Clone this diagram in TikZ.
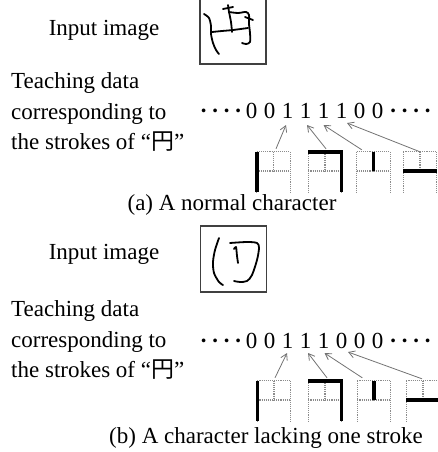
\documentclass[tikz,border=0pt]{standalone}
\usepackage{fontspec}
\setmainfont{Liberation Serif}
\newfontfamily\cjk{Noto Sans CJK JP}
\usetikzlibrary{arrows.meta,calc}
\newcommand\onedot{\makebox[11.5pt]{\bfseries ·}}
\newcommand\dotrow{\onedot\onedot\onedot\onedot}
% grid of the character: #1 = node name, #2 = highlighted stroke (1..4)
\newcommand\yengrid[2]{%
  \draw[gridl] (#1.north west) -- (#1.south west)
               (#1.north west) -- (#1.north east) -- (#1.south east)
               (#1.north) -- ($(#1.north)!0.475!(#1.south)$)
               ($(#1.north west)!0.475!(#1.south west)$) -- ($(#1.north east)!0.475!(#1.south east)$);
  \ifcase#2\or
    \draw[strk] (#1.north west) -- (#1.south west);\or
    \draw[strk] (#1.north west) -- (#1.north east) -- (#1.south east);\or
    \draw[strk] (#1.north) -- ($(#1.north)!0.475!(#1.south)$);\or
    \draw[strk] ($(#1.north west)!0.475!(#1.south west)$) -- ($(#1.north east)!0.475!(#1.south east)$);\fi}
\begin{document}
\begin{tikzpicture}[x=1pt,y=-1pt,
  txt/.style={font=\fontsize{23}{23}\selectfont, inner sep=0pt},
  lbl/.style={txt, anchor=base west},
  dig/.style={txt, anchor=base},
  imgbox/.style={draw=black!75, line width=1.1pt, minimum width=66pt, minimum height=66pt, inner sep=0pt},
  cell/.style={minimum width=33pt, minimum height=40pt, inner sep=0pt},
  gridl/.style={draw=black!45, line width=1.1pt, densely dotted},
  strk/.style={draw=black, line width=3.4pt},
  arr/.style={draw=black!55, line width=0.8pt, -{Straight Barb[length=6pt,width=7pt]}},
  pen/.style={draw=black, line width=1.8pt, line cap=round, line join=round}]
\useasboundingbox (0,0) rectangle (438,452);

% ---------- (a) ----------
\node[dig] (in1) at (104,36) {Input image};
\node[imgbox] (img1) at (233,31) {};
\draw[pen] plot[smooth] coordinates {(204,14) (209,18) (211,26) (211,34) (213,43) (216,50) (219,54)};
\draw[pen] plot[smooth] coordinates {(212,32) (222,31) (233,30) (248,28)};
\draw[pen] (223,9) -- (233,7);
\draw[pen] (228,5) -- (229,12);
\draw[pen] plot[smooth] coordinates {(229,12) (238,13) (246,12) (249,15) (249,24) (250,33) (250,42) (246,44) (242,43)};
\draw[pen] (245,17) -- (253,20);
\draw[pen] plot[smooth] coordinates {(229,12) (231,22) (232,32)};

\node[lbl] (ta1) at (11,88) {Teaching data};
\node[lbl] (ta2) at (11,119) {corresponding to};
\node[lbl] (ta3) at (11,149) {the strokes of “{\cjk 円}”};

\node[dig] (la) at (221,118) {\dotrow};
\node[dig] (a1) at (251.5,118) {0};
\node[dig] (a2) at (269.5,118) {0};
\node[dig] (a3) at (287.5,118) {1};
\node[dig] (a4) at (305.5,118) {1};
\node[dig] (a5) at (323.5,118) {1};
\node[dig] (a6) at (341.5,118) {1};
\node[dig] (a7) at (359.5,118) {0};
\node[dig] (a8) at (377.5,118) {0};
\node[dig] (ra) at (410.5,118) {\dotrow};

\node[cell] (ga1) at (273.5,172) {};
\node[cell] (ga2) at (325,172) {};
\node[cell] (ga3) at (373.5,172) {};
\node[cell] (ga4) at (420,172) {};
\yengrid{ga1}{1}
\yengrid{ga2}{2}
\yengrid{ga3}{3}
\yengrid{ga4}{4}

\draw[arr] ($(ga1.north)+(2.5,-3)$) -- ($(a3.base)+(-1.5,7)$);
\draw[arr] ($(ga2.north)+(1,-3)$) -- ($(a4.base)+(1.5,7)$);
\draw[arr] ($(ga3.north west)+(5,-2)$) -- ($(a5.base)+(0,7)$);
\draw[arr] ($(ga4.north)+(0,0)$) -- ($(a6.base)+(5.5,5)$);

\node[dig] (capa) at (232,210) {(a) A normal character};

% ---------- (b) ----------
\node[dig] (in2) at (104,259) {Input image};
\node[imgbox] (img2) at (233.5,259) {};
\draw[pen] plot[smooth] coordinates {(219,238) (215,250) (213,262) (214,273) (219,282) (223,285)};
\draw[pen] plot[smooth] coordinates {(230,243) (247,242) (257,243) (259,248) (257,260) (252,275) (247,281) (240,282) (234,281)};
\draw[pen] plot[smooth] coordinates {(234,249) (236,247) (237,256) (238,263)};

\node[lbl] (tb1) at (11,316) {Teaching data};
\node[lbl] (tb2) at (11,347) {corresponding to};
\node[lbl] (tb3) at (11,377) {the strokes of “{\cjk 円}”};

\node[dig] (lb) at (221,348) {\dotrow};
\node[dig] (b1) at (251.5,348) {0};
\node[dig] (b2) at (269.5,348) {0};
\node[dig] (b3) at (287.5,348) {1};
\node[dig] (b4) at (305.5,348) {1};
\node[dig] (b5) at (323.5,348) {1};
\node[dig] (b6) at (341.5,348) {0};
\node[dig] (b7) at (359.5,348) {0};
\node[dig] (b8) at (377.5,348) {0};
\node[dig] (rb) at (410.5,348) {\dotrow};

\node[cell] (gb1) at (274,401) {};
\node[cell] (gb2) at (325,401) {};
\node[cell] (gb3) at (374,401) {};
\node[cell] (gb4) at (423,401) {};
\yengrid{gb1}{1}
\yengrid{gb2}{2}
\yengrid{gb3}{3}
\yengrid{gb4}{4}

\draw[arr] ($(gb1.north)+(1,-3)$) -- ($(b3.base)+(-0.5,5)$);
\draw[arr] ($(gb2.north)+(2,-3)$) -- ($(b4.base)+(2.5,5)$);
\draw[arr] ($(gb3.north west)+(5,-3)$) -- ($(b5.base)+(1,5)$);
\draw[arr] ($(gb4.north)+(-1,-2)$) -- ($(b6.base)+(6.5,4)$);

\node[dig] (capb) at (266,443) {(b) A character lacking one stroke};
\end{tikzpicture}
\end{document}
